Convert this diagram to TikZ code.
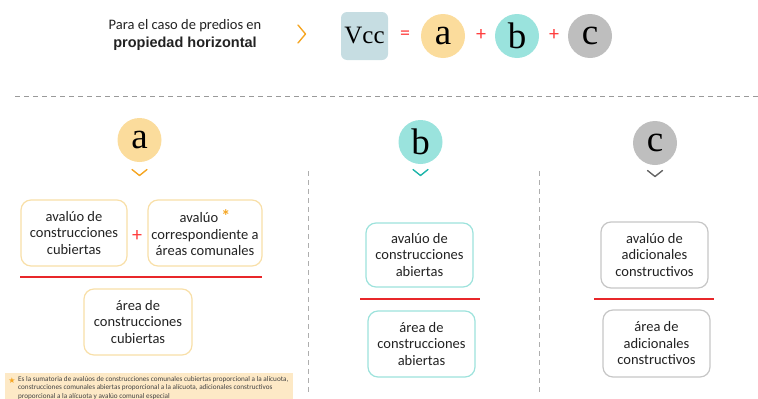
\documentclass[tikz,border=0pt]{standalone}
\usepackage{fontspec}
\setmainfont{Carlito}
\newfontfamily\serifletters{Liberation Serif}
\newfontfamily\symfont{DejaVu Sans}
\newfontfamily\arialb{Liberation Sans}
\definecolor{txt}{HTML}{222222}
\definecolor{orng}{HTML}{F5A623}
\definecolor{afill}{HTML}{FBDC9C}
\definecolor{bfill}{HTML}{9AE3DD}
\definecolor{cfill}{HTML}{BEBEBE}
\definecolor{vccfill}{HTML}{C6DDE2}
\definecolor{aline}{HTML}{F8DFA8}
\definecolor{bline}{HTML}{9DE2DC}
\definecolor{cline}{HTML}{C6C6C6}
\definecolor{redl}{HTML}{E8272A}
\definecolor{redp}{HTML}{FF3B3B}
\definecolor{dashg}{HTML}{9A9A9A}
\definecolor{notefill}{HTML}{FDE9C6}
\definecolor{tealc}{HTML}{1FB5AA}
\definecolor{grayc}{HTML}{666666}
\tikzset{
  boxtext/.style={font=\fontsize{14.5}{16.5}\selectfont, text=txt, align=center},
  valbox/.style={boxtext, draw, rounded corners=10pt, line width=1.2pt, inner sep=0pt},
  letter/.style={circle, minimum size=44pt, inner sep=0pt, text=black, font=\serifletters\fontsize{37}{37}\selectfont},
  opsign/.style={text=redp, font=\fontsize{20}{20}\selectfont, inner sep=0pt},
  fracline/.style={draw=redl, line width=1.3pt},
  chev/.style={line width=1.4pt, line cap=round, line join=round},
  sep/.style={draw=dashg, line width=1pt, dash pattern=on 5pt off 4pt}
}
\begin{document}
\begin{tikzpicture}[x=1pt,y=-1pt]
\useasboundingbox (0,0) rectangle (758,399);
% header
\node[font=\fontsize{14.5}{18.5}\selectfont, text=txt, align=center] (title) at (185,35)
  {Para el caso de predios en\\{\arialb\bfseries propiedad horizontal}};
\coordinate (h1) at (298,25);
\coordinate (h2) at (305.5,34);
\coordinate (h3) at (298,43);
\draw[chev, draw=orng] (h1) -- (h2) -- (h3);
\node[fill=vccfill, rounded corners=6pt, minimum width=47pt, minimum height=48pt, inner sep=0pt,
      font=\serifletters\fontsize{25}{25}\selectfont] (vcc) at (364.5,36) {Vcc};
\node[opsign] (eq) at (405,35) {=};
\node[letter, fill=afill] (ta) at (443,36) {a};
\node[opsign] (p1) at (481,35) {+};
\node[letter, fill=bfill] (tb) at (517,36) {b};
\node[opsign] (p2) at (554,35) {+};
\node[letter, fill=cfill] (tc) at (590,36) {c};
% dashed separator
\coordinate (s1) at (15,96);
\coordinate (s2) at (758,96);
\draw[sep] (s1) -- (s2);
\coordinate (v1a) at (308,171);
\coordinate (v1b) at (308,393);
\coordinate (v2a) at (539,171);
\coordinate (v2b) at (539,393);
\draw[sep, draw=dashg!80] (v1a) -- (v1b);
\draw[sep, draw=dashg!80] (v2a) -- (v2b);
% section a
\node[letter, fill=afill] (la) at (139.5,140) {a};
\coordinate (ca1) at (132,169.5);
\coordinate (ca2) at (139.5,175.5);
\coordinate (ca3) at (147,169.5);
\draw[chev, draw=orng] (ca1) -- (ca2) -- (ca3);
\node[valbox, draw=aline, minimum width=106pt, minimum height=66pt] (a1) at (74,233)
  {avalúo de\\construcciones\\cubiertas};
\node[opsign] (ap) at (137,236) {+};
\node[valbox, draw=aline, minimum width=114pt, minimum height=66pt] (a2) at (205,233)
  {avalúo \textcolor{orng}{\fontsize{18}{16.5}\selectfont\bfseries *}\\correspondiente a\\áreas comunales};
\coordinate (la1) at (20,277);
\coordinate (la2) at (262,277);
\draw[fracline] (la1) -- (la2);
\node[valbox, draw=aline, minimum width=108pt, minimum height=66pt] (a3) at (138,322)
  {área de\\construcciones\\cubiertas};
% section b
\node[letter, fill=bfill] (lb) at (420.5,142) {b};
\coordinate (cb1) at (413,169.5);
\coordinate (cb2) at (420.5,175.5);
\coordinate (cb3) at (428,169.5);
\draw[chev, draw=tealc] (cb1) -- (cb2) -- (cb3);
\node[valbox, draw=bline, minimum width=107pt, minimum height=64pt] (b1) at (419.5,255)
  {avalúo de\\construcciones\\abiertas};
\coordinate (lb1) at (360,299);
\coordinate (lb2) at (480,299);
\draw[fracline] (lb1) -- (lb2);
\node[valbox, draw=bline, minimum width=107pt, minimum height=66pt] (b2) at (421.5,344)
  {área de\\construcciones\\abiertas};
% section c
\node[letter, fill=cfill] (lc) at (655,143) {c};
\coordinate (cc1) at (647.5,170.5);
\coordinate (cc2) at (655,176.5);
\coordinate (cc3) at (662.5,170.5);
\draw[chev, draw=grayc] (cc1) -- (cc2) -- (cc3);
\node[valbox, draw=cline, minimum width=107pt, minimum height=66pt] (c1) at (654.5,255)
  {avalúo de\\adicionales\\constructivos};
\coordinate (lc1) at (594,299);
\coordinate (lc2) at (714,299);
\draw[fracline] (lc1) -- (lc2);
\node[valbox, draw=cline, minimum width=107pt, minimum height=67pt] (c2) at (656.5,343.5)
  {área de\\adicionales\\constructivos};
% footnote
\begin{scope}
\clip (0,0) rectangle (758,399);
\fill[notefill] (5,373) rectangle (293,405);
\node[text=orng, font=\symfont\fontsize{8}{8}\selectfont, inner sep=0pt] (star) at (12,381) {★};
\node[anchor=north west, inner sep=0pt, text=txt!85, align=left,
      font=\fontsize{7.2}{8.2}\selectfont] (note) at (18,376.5)
  {Es la sumatoria de avalúos de construcciones comunales cubiertas proporcional a la alícuota,\\
   construcciones comunales abiertas proporcional a la alícuota, adicionales constructivos\\
   proporcional a la alícuota y avalúo comunal especial};
\end{scope}
\end{tikzpicture}
\end{document}
